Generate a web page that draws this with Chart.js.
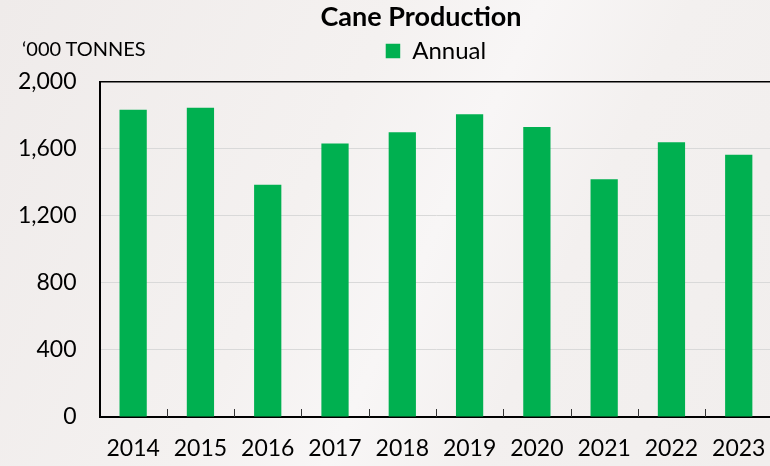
<!DOCTYPE html>
<html>
<head>
<meta charset="utf-8">
<script src="https://cdn.jsdelivr.net/npm/chart.js@4/dist/chart.umd.min.js"></script>
<style>
  html, body { margin: 0; padding: 0; overflow: hidden; width: 770px; height: 466px;
    background: linear-gradient(115deg, #efebea 0%, #f4f1f0 40%, #f8f6f6 55%, #f3f0ef 70%, #f1eeed 100%);
    font-family: Lato, "Noto Sans", sans-serif; }
  #wrap { position: absolute; left: 0; top: 0; width: 784px; height: 466px; }
  #title { position: absolute; left: 421px; top: 0px; transform: translateX(-50%); line-height: 1.2;
    font-weight: bold; font-size: 27px; color: #000; white-space: nowrap; }
  #unit { position: absolute; left: 22px; top: 36px; line-height: 1.2; font-size: 20px; color: #000; white-space: nowrap; }
</style>
</head>
<body>
<div id="wrap"><canvas id="c"></canvas></div>
<div id="title">Cane Production</div>
<div id="unit">‘000 TONNES</div>
<script>
const categories = ["2014","2015","2016","2017","2018","2019","2020","2021","2022","2023"];
const annualValues = [1832, 1844, 1385, 1630, 1697, 1805, 1729, 1417, 1638, 1564];
const yTicks = [0, 400, 800, 1200, 1600, 2000];
const seriesName = "Annual";

const innerTicks = {
  id: 'innerTicks',
  afterDatasetsDraw(chart) {
    const x = chart.scales.x, ctx = chart.ctx, b = chart.chartArea.bottom;
    ctx.save();
    ctx.strokeStyle = '#333';
    ctx.lineWidth = 1;
    for (let i = 0; i < categories.length - 1; i++) {
      const px = Math.round((x.getPixelForValue(i) + x.getPixelForValue(i + 1)) / 2) + 0.5;
      ctx.beginPath();
      ctx.moveTo(px, b);
      ctx.lineTo(px, b - 8);
      ctx.stroke();
    }
    ctx.restore();
  }
};

new Chart(document.getElementById('c'), {
  type: 'bar',
  data: {
    labels: categories,
    datasets: [{
      label: seriesName,
      data: annualValues,
      backgroundColor: '#00b050',
      borderWidth: 0,
      categoryPercentage: 1,
      barPercentage: 0.405
    }]
  },
  options: {
    responsive: true,
    maintainAspectRatio: false,
    animation: false,
    layout: { padding: { top: 31, right: 3, bottom: 3, left: 16 } },
    plugins: {
      title: { display: false },
      subtitle: {
        display: true,
        text: '',
        weight: 900,
        font: { size: 1 },
        padding: { top: 0, bottom: 7.3 }
      },
      tooltip: { enabled: false },
      legend: {
        display: true,
        position: 'top',
        fullSize: false,
        labels: {
          color: '#000',
          font: { family: 'Lato', size: 24 },
          boxWidth: 14.5,
          boxHeight: 14.5,
          padding: 8
        }
      }
    },
    scales: {
      x: {
        afterFit(scale) { scale.height = 46; },
        grid: { display: false, drawTicks: false },
        border: { display: true, color: '#000', width: 2 },
        ticks: {
          color: '#000',
          font: { family: 'Lato', size: 23 },
          padding: 18,
          maxRotation: 0,
          autoSkip: false
        }
      },
      y: {
        min: 0,
        max: 2000,
        afterFit(scale) { scale.width = 83.5; },
        afterBuildTicks(scale) { scale.ticks = yTicks.map(v => ({ value: v })); },
        grid: {
          drawTicks: false,
          color: ctx => (ctx.tick && ctx.tick.value === 2000) ? '#000' : '#d9d9d9',
          lineWidth: ctx => (ctx.tick && ctx.tick.value === 2000) ? 1.5 : 1
        },
        border: { display: true, color: '#000', width: 2 },
        ticks: {
          color: '#000',
          font: { family: 'Lato', size: 23 },
          padding: 23,
          callback: v => v.toLocaleString('en-US')
        }
      }
    }
  },
  plugins: [innerTicks]
});
</script>
</body>
</html>
